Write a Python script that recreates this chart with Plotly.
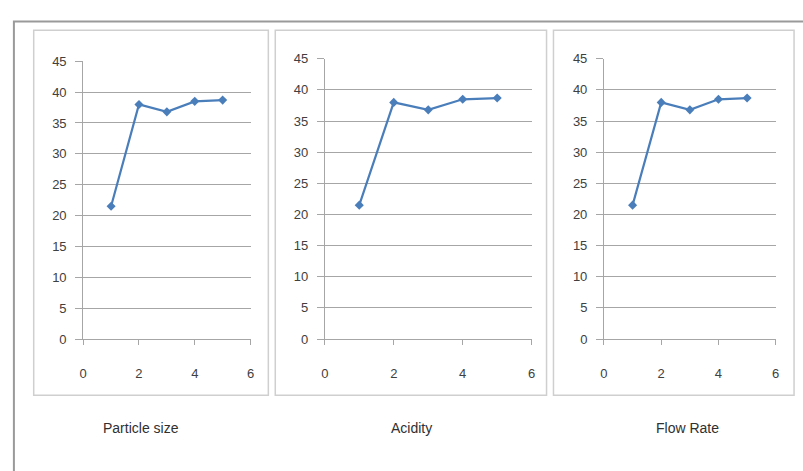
import plotly.graph_objects as go

W, H = 803, 471

x_values = [1, 2, 3, 4, 5]
particle_size = [21.5, 38.0, 36.8, 38.5, 38.7]
acidity = [21.5, 38.0, 36.8, 38.5, 38.7]
flow_rate = [21.5, 38.0, 36.8, 38.5, 38.7]
panel_titles = ["Particle size", "Acidity", "Flow Rate"]
series = [particle_size, acidity, flow_rate]
x_ticks = [0, 2, 4, 6]
y_ticks = [0, 5, 10, 15, 20, 25, 30, 35, 40, 45]

def px(x):
    return x / W

def py(y):
    return 1 - y / H

# pixel geometry of each panel
plot_x = [(80, 249), (324, 533), (606, 779.5)]
plot_y = [(343, 56), (343, 53.5), (343, 53.5)]
boxes = [(30, 267), (274, 548), (555, 798)]
title_x = [138, 412, 690]

LINE = "#4a7ebb"
GRID = "#a6a6a6"
FONT = "Liberation Sans"

fig = go.Figure()
for i, vals in enumerate(series):
    s = "" if i == 0 else str(i + 1)
    fig.add_trace(go.Scatter(
        x=x_values, y=vals, mode="lines+markers",
        line=dict(color=LINE, width=2.2),
        marker=dict(symbol="diamond", size=7, color=LINE),
        xaxis="x" + s, yaxis="y" + s, showlegend=False,
        hoverinfo="x+y", cliponaxis=False,
    ))
    x0, x1 = plot_x[i]
    y0, y1 = plot_y[i]
    fig.update_layout(**{
        "xaxis" + s: dict(
            domain=[px(x0), px(x1)], range=[0, 6], anchor="y" + s,
            tickvals=x_ticks, ticks="outside", ticklen=5, tickcolor=GRID,
            showgrid=False, showline=True, linecolor=GRID, linewidth=1.2,
            zeroline=False, fixedrange=True, ticklabelstandoff=17,
            tickfont=dict(family=FONT, size=13, color="#404040"),
        ),
        "yaxis" + s: dict(
            domain=[py(y0), py(y1)], range=[0, 45], anchor="x" + s,
            tickvals=y_ticks, ticks="outside", ticklen=7, tickcolor=GRID,
            showgrid=True, gridcolor=GRID, gridwidth=1,
            showline=True, linecolor=GRID, linewidth=1,
            zeroline=False, fixedrange=True, ticklabelstandoff=6,
            tickfont=dict(family=FONT, size=13, color="#404040"),
        ),
    })

shapes = [dict(type="rect", xref="paper", yref="paper",
               x0=px(10), x1=px(812), y0=py(15), y1=py(485),
               line=dict(color="#9a9a9a", width=2), layer="below")]
for (bx0, bx1) in boxes:
    shapes.append(dict(type="rect", xref="paper", yref="paper",
                       x0=px(bx0), x1=px(bx1), y0=py(24), y1=py(401),
                       line=dict(color="#cfcfcf", width=1.5), layer="below"))

annotations = []
for t, cx in zip(panel_titles, title_x):
    annotations.append(dict(text=t, x=px(cx), y=py(435), xref="paper", yref="paper",
                            showarrow=False, xanchor="center", yanchor="middle",
                            font=dict(family=FONT, size=14, color="#303030")))

fig.update_layout(
    width=W, height=H, margin=dict(l=0, r=0, t=0, b=0),
    paper_bgcolor="white", plot_bgcolor="white",
    shapes=shapes, annotations=annotations,
)

fig.write_html("out.html", config={"displayModeBar": False},
               post_script="document.body.style.margin='0';document.body.style.overflow='hidden';")
